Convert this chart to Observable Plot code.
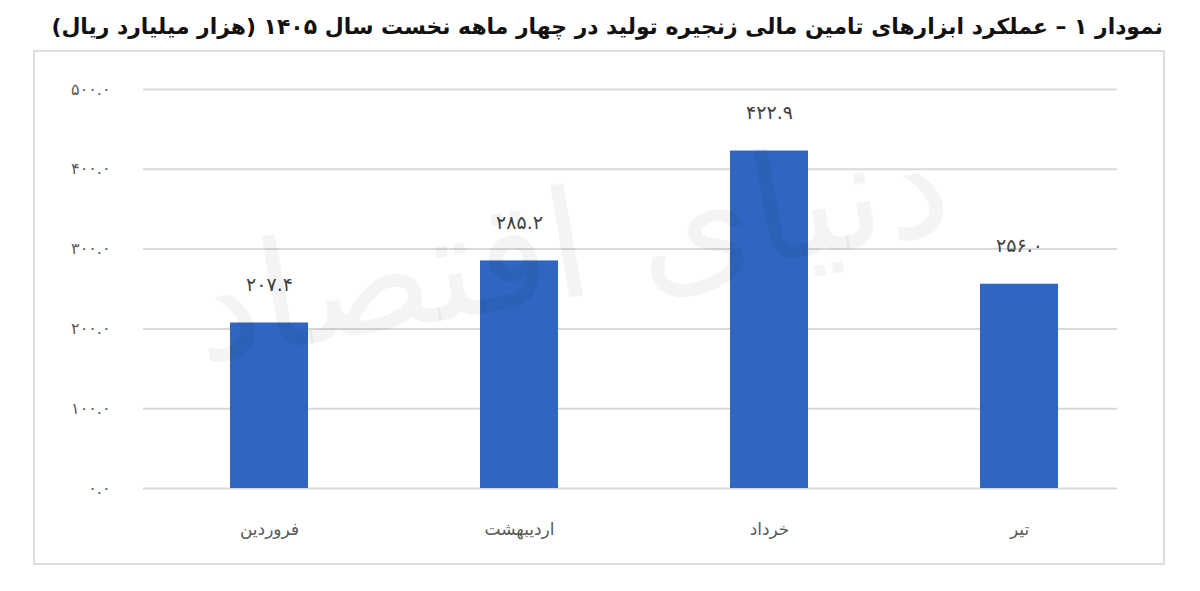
<!DOCTYPE html>
<html>
<head>
<meta charset="utf-8">
<script src="https://cdn.jsdelivr.net/npm/d3@7"></script>
<script src="https://cdn.jsdelivr.net/npm/@observablehq/plot@0.6"></script>
<style>
  body { margin: 0; background: #fff; font-family: "DejaVu Sans", sans-serif; }
  #title { position: absolute; left: 0; top: 14px; width: 1163px; text-align: right; direction: rtl; white-space: nowrap;
           font-size: 21.9px; font-weight: bold; color: #111; }
  #box { position: absolute; left: 33px; top: 50px; width: 1128px; height: 511px; border: 2px solid #dedede; }
</style>
</head>
<body>
<div id="title">نمودار ۱ – عملکرد ابزارهای تامین مالی زنجیره تولید در چهار ماهه نخست سال ۱۴۰۵ (هزار میلیارد ریال)</div>
<div id="box"><div id="chart"></div></div>
<script>
// ماه‌ها و مقادیر (هزار میلیارد ریال)
const months = ["فروردین", "اردیبهشت", "خرداد", "تیر"];
const values = [207.4, 285.2, 422.9, 256.0];
const yTicks = [0, 100, 200, 300, 400, 500];

const fa = (s) => String(s).replace(/\d/g, (c) => "۰۱۲۳۴۵۶۷۸۹"[c]);

const data = months.map((m, i) => ({month: m, value: values[i]}));

let chart = Plot.plot({
  width: 1128,
  height: 511,
  marginLeft: 108,
  marginRight: 46,
  marginTop: 37,
  marginBottom: 75,
  style: {fontFamily: "DejaVu Sans, sans-serif", background: "transparent"},
  x: {domain: months, range: [109, 1109], paddingInner: 0.69, paddingOuter: 0.345, label: null},
  y: {domain: [0, 500], label: null},
  marks: [
    Plot.ruleY(yTicks, {stroke: "#d9d9d9", strokeWidth: 2}),
    Plot.barY(data, {x: "month", y: "value", fill: "#3066c1"}),
    Plot.text(data, {x: "month", y: "value", text: (d) => fa(d.value.toFixed(1)), dy: -38, fontSize: 19, fill: "#404040"}),
    Plot.axisY(yTicks, {tickSize: 0, tickPadding: 33, tickFormat: (d) => fa(d.toFixed(1)), fontSize: 16, fill: "#595959", label: null}),
    Plot.axisX({tickSize: 0, tickPadding: 34, fontSize: 17, fill: "#595959", label: null}),
    // واترمارک
    Plot.text(["دنیای اقتصاد"], {frameAnchor: "middle", dx: -60, dy: -40, rotate: -10, fontSize: 150, fill: "#000", fillOpacity: 0.045})
  ]
});
d3.select("#chart").append(() => chart);
</script>
</body>
</html>
